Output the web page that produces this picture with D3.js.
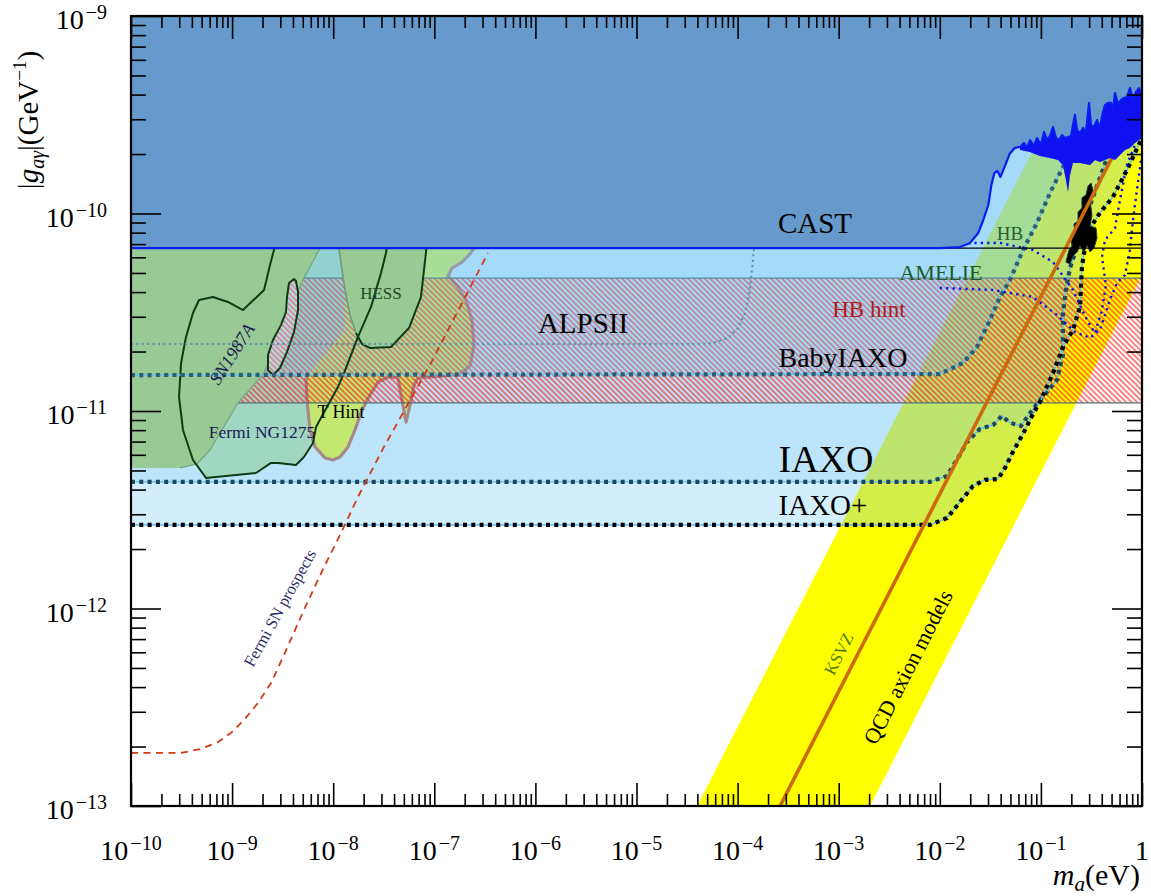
<!DOCTYPE html>
<html><head><meta charset="utf-8">
<script src="https://cdn.jsdelivr.net/npm/d3@7"></script>
<style>
body{margin:0;background:#fff}
svg{display:block}
text{font-family:"Liberation Serif","DejaVu Serif",serif}
</style>
</head><body>
<svg id="c" width="1151" height="896"></svg>
<script>
// ---------- DATA (all values are log10(m_a/eV), log10(g/GeV^-1)) ----------
const xMajor = [-10,-9,-8,-7,-6,-5,-4,-3,-2,-1,0];
const yMajor = [-13,-12,-11,-10,-9];

const castSmooth = [[-10,-10.175],[-2.00,-10.175],[-1.80,-10.170],[-1.70,-10.149],[-1.62,-10.099],[-1.57,-10.033],[-1.52,-9.957],[-1.49,-9.856],[-1.46,-9.795],[-1.43,-9.785],[-1.40,-9.815],[-1.36,-9.765],[-1.31,-9.699],[-1.26,-9.668],[-1.207,-9.663]];
const castBandTop = [[-1.207,-9.663],[-1.167,-9.643],[-1.138,-9.668],[-1.108,-9.628],[-1.068,-9.658],[-1.039,-9.618],[-0.999,-9.653],[-0.969,-9.587],[-0.940,-9.628],[-0.910,-9.608],[-0.880,-9.562],[-0.851,-9.618],[-0.821,-9.628],[-0.791,-9.603],[-0.762,-9.618],[-0.732,-9.613],[-0.702,-9.608],[-0.683,-9.552],[-0.663,-9.501],[-0.643,-9.577],[-0.613,-9.592],[-0.584,-9.567],[-0.554,-9.587],[-0.524,-9.440],[-0.505,-9.552],[-0.475,-9.562],[-0.445,-9.527],[-0.416,-9.567],[-0.386,-9.486],[-0.366,-9.451],[-0.336,-9.440],[-0.307,-9.440],[-0.287,-9.476],[-0.267,-9.390],[-0.238,-9.446],[-0.208,-9.425],[-0.178,-9.415],[-0.149,-9.410],[-0.119,-9.365],[-0.089,-9.425],[-0.060,-9.385],[-0.030,-9.365],[0,-9.400]];
const castBandBottom = [[-1.207,-9.678],[-1.108,-9.689],[-1.009,-9.709],[-0.910,-9.719],[-0.831,-9.729],[-0.782,-9.754],[-0.752,-9.830],[-0.732,-9.891],[-0.712,-9.805],[-0.683,-9.744],[-0.613,-9.744],[-0.514,-9.754],[-0.465,-9.729],[-0.416,-9.739],[-0.366,-9.729],[-0.317,-9.719],[-0.267,-9.729],[-0.218,-9.704],[-0.168,-9.678],[-0.119,-9.668],[-0.070,-9.643],[0,-9.618]];

const iaxoPlus = [[-10,-11.577],[-2.097,-11.577],[-1.929,-11.542],[-1.800,-11.461],[-1.672,-11.380],[-1.553,-11.349],[-1.424,-11.344],[-1.355,-11.288],[-1.276,-11.207],[-1.177,-11.116],[-1.078,-11.015],[-1.009,-10.954],[-0.880,-10.808],[-0.782,-10.676],[-0.683,-10.590],[-0.613,-10.473],[-0.594,-10.271],[-0.544,-10.099],[-0.416,-9.997],[-0.287,-9.916],[-0.149,-9.780],[0,-9.618]];
const iaxo = [[-10,-11.359],[-2.097,-11.359],[-1.929,-11.329],[-1.820,-11.238],[-1.731,-11.157],[-1.603,-11.091],[-1.474,-11.071],[-1.385,-11.025],[-1.326,-11.051],[-1.266,-11.066],[-1.197,-11.076],[-1.128,-11.025],[-1.039,-10.964],[-0.940,-10.904],[-0.841,-10.843],[-0.782,-10.716],[-0.782,-10.504],[-0.752,-10.387],[-0.712,-10.276],[-0.653,-10.185],[-0.584,-10.083],[-0.514,-9.957],[-0.416,-9.820],[-0.317,-9.678],[-0.168,-9.476],[0,-9.273]];
const babyIaxo = [[-10,-10.818],[-2.000,-10.813],[-1.771,-10.757],[-1.632,-10.676],[-1.504,-10.539],[-1.405,-10.423],[-1.306,-10.337],[-1.177,-10.185],[-1.039,-10.048],[-0.910,-9.896],[-0.782,-9.765],[-0.663,-9.628],[-0.564,-9.501],[-0.416,-9.324]];
const alpsII = [[-10,-10.661],[-4.372,-10.661],[-4.243,-10.656],[-4.095,-10.630],[-3.996,-10.580],[-3.927,-10.504],[-3.887,-10.413],[-3.858,-10.286],[-3.838,-10.175]];

const qcdUpper = [[-4.40,-13.0],[0,-8.60]];
const qcdLower = [[-2.69,-13.0],[0,-10.31]];
const ksvz = [[-3.58,-13.0],[0,-9.42]];
const hbHint = [-10.959,-10.327];
const hbBound = -10.175;

const fermiSN = [[-10,-12.731],[-9.505,-12.731],[-9.308,-12.711],[-9.139,-12.676],[-9.011,-12.630],[-8.882,-12.564],[-8.744,-12.478],[-8.615,-12.377],[-8.487,-12.235],[-8.289,-12.007],[-8.091,-11.790],[-7.923,-11.618],[-7.755,-11.435],[-7.498,-11.182],[-7.033,-10.757],[-6.469,-10.200]];
const sn1987a = [[-10,-10.1],[-8.05,-10.1],[-8.131,-10.175],[-8.289,-10.327],[-8.477,-10.539],[-8.684,-10.808],[-8.942,-10.959],[-9.100,-11.096],[-9.219,-11.197],[-9.347,-11.268],[-9.515,-11.288],[-10,-11.288]];
const fermiNGC = [[-8.556,-10.134],[-8.586,-10.185],[-8.625,-10.261],[-8.684,-10.387],[-8.892,-10.489],[-9.041,-10.448],[-9.189,-10.423],[-9.327,-10.438],[-9.387,-10.504],[-9.456,-10.625],[-9.505,-10.757],[-9.525,-10.929],[-9.486,-11.096],[-9.387,-11.248],[-9.258,-11.339],[-8.764,-11.314],[-8.615,-11.263],[-8.546,-11.263],[-8.368,-11.273],[-8.289,-11.233],[-8.200,-11.162],[-8.170,-11.081],[-7.953,-10.878],[-7.893,-10.808],[-7.755,-10.625],[-7.626,-10.473],[-7.527,-10.301],[-7.478,-10.200],[-7.458,-10.134]];
const fermiIsland = [[-8.388,-10.332],[-8.437,-10.352],[-8.457,-10.423],[-8.467,-10.499],[-8.516,-10.564],[-8.595,-10.640],[-8.645,-10.716],[-8.645,-10.792],[-8.595,-10.818],[-8.526,-10.782],[-8.457,-10.701],[-8.388,-10.600],[-8.348,-10.489],[-8.348,-10.397],[-8.368,-10.342]];
const hess = [[-7.943,-10.134],[-7.943,-10.175],[-7.923,-10.251],[-7.883,-10.387],[-7.834,-10.514],[-7.775,-10.605],[-7.715,-10.661],[-7.636,-10.681],[-7.428,-10.676],[-7.250,-10.580],[-7.132,-10.423],[-7.082,-10.195],[-7.072,-10.134]];
const tHint = [[-8.269,-10.833],[-8.259,-10.944],[-8.230,-11.096],[-8.180,-11.182],[-8.081,-11.238],[-8.002,-11.248],[-7.933,-11.233],[-7.854,-11.182],[-7.784,-11.096],[-7.715,-10.995],[-7.636,-10.919],[-7.557,-10.853],[-7.458,-10.828],[-7.359,-10.833],[-7.329,-10.919],[-7.280,-11.056],[-7.240,-10.970],[-7.201,-10.868],[-7.161,-10.833],[-6.944,-10.823],[-6.746,-10.813],[-6.647,-10.772],[-6.607,-10.666],[-6.627,-10.539],[-6.687,-10.438],[-6.766,-10.372],[-6.865,-10.316],[-6.825,-10.276],[-6.726,-10.246],[-6.647,-10.205],[-6.588,-10.159],[-6.568,-10.109],[-7.883,-10.109],[-7.883,-10.590],[-8.131,-10.742]];
const blackNoise = [[-0.752,-10.246],[-0.722,-10.185],[-0.693,-10.164],[-0.702,-10.124],[-0.663,-10.099],[-0.673,-10.053],[-0.633,-10.038],[-0.633,-9.992],[-0.594,-9.972],[-0.594,-9.921],[-0.554,-9.906],[-0.534,-9.861],[-0.505,-9.846],[-0.485,-9.881],[-0.514,-9.932],[-0.495,-10.008],[-0.514,-10.063],[-0.455,-10.073],[-0.445,-10.124],[-0.475,-10.175],[-0.514,-10.195],[-0.544,-10.159],[-0.574,-10.195],[-0.613,-10.164],[-0.643,-10.195],[-0.683,-10.215],[-0.712,-10.256]];
const hbLine = [[-1.721,-10.149],[-1.405,-10.149],[-1.078,-10.185],[-0.880,-10.246],[-0.683,-10.387],[-0.544,-10.539],[-0.465,-10.605],[-0.396,-10.489],[-0.357,-10.362],[-0.396,-10.220],[-0.366,-10.134],[-0.267,-10.073],[-0.218,-9.932],[-0.149,-9.754],[-0.070,-9.653]];
const amelieLine = [[-2.000,-10.377],[-1.474,-10.387],[-1.078,-10.423],[-0.841,-10.514],[-0.663,-10.600],[-0.514,-10.630],[-0.416,-10.590],[-0.317,-10.438],[-0.248,-10.352],[-0.168,-10.311],[-0.119,-10.185],[-0.089,-10.033],[-0.050,-9.881],[-0.010,-9.729]];

// ---------- SETUP ----------
const L=131,R=1142,T=16,B=806;
const x=d3.scaleLog().domain([1e-10,1]).range([L,R]);
const y=d3.scaleLog().domain([1e-13,1e-9]).range([B,T]);
const X=p=>x(Math.pow(10,p[0])), Y=p=>y(Math.pow(10,p[1]));
const line=d3.line().x(X).y(Y);
const closed=pts=>line(pts)+"Z";
const above=c=>c.concat([[c[c.length-1][0],-8.5],[-10,-8.5]]);

const svg=d3.select("#c");
const defs=svg.append("defs");
defs.append("clipPath").attr("id","clip").append("rect")
  .attr("x",L).attr("y",T).attr("width",R-L).attr("height",B-T);
const pat=defs.append("pattern").attr("id","hatch").attr("patternUnits","userSpaceOnUse")
  .attr("width",3.9).attr("height",10).attr("patternTransform","rotate(-45)");
pat.append("line").attr("x1",1).attr("y1",0).attr("x2",1).attr("y2",10)
  .attr("stroke","#ff1010").attr("stroke-width",1.05);

svg.append("rect").attr("width",1151).attr("height",896).attr("fill","#fff");
const g=svg.append("g").attr("clip-path","url(#clip)");

// QCD band
g.append("path").attr("d",closed([qcdUpper[0],qcdUpper[1],qcdLower[1],qcdLower[0]])).attr("fill","#ffff00");

// blue sensitivity layers
const blue="#6cc6f4";
g.append("path").attr("d",closed(above(iaxoPlus))).attr("fill",blue).attr("fill-opacity",0.30);
g.append("path").attr("d",closed(above(iaxo))).attr("fill",blue).attr("fill-opacity",0.22);

// Fermi NGC1275 fill
g.append("path").attr("d",closed(fermiNGC.concat([[-7.458,-9.9],[-8.556,-9.9]]))).attr("fill","rgb(125,195,120)").attr("fill-opacity",0.42);

// T hint
g.append("path").attr("d",closed(tHint)).attr("fill","#c3e870");
g.append("path").attr("d",line(tHint.slice(0,32))).attr("fill","none").attr("stroke","#a68a8a").attr("stroke-width",3.2).attr("stroke-linejoin","round");

// HB hint hatch
const hbY1=y(Math.pow(10,hbHint[1])), hbY0=y(Math.pow(10,hbHint[0]));
g.append("rect").attr("x",x(1e-10)).attr("width",x(1)-x(1e-10)).attr("y",hbY1).attr("height",hbY0-hbY1).attr("fill","url(#hatch)");
[hbHint[0],hbHint[1]].forEach(v=>{
  g.append("path").attr("d",line([[-10,v],[0,v]])).attr("stroke","#55707a").attr("stroke-width",1.1).attr("fill","none");
});

// BabyIAXO layer
g.append("path").attr("d",closed(above(babyIaxo))).attr("fill",blue).attr("fill-opacity",0.30);

// SN1987A & HESS
g.append("path").attr("d",closed(sn1987a)).attr("fill","#99c994");
g.append("path").attr("d",line(sn1987a.slice(1,11))).attr("fill","none").attr("stroke","#77a87c").attr("stroke-width",1.3);
g.append("path").attr("d",closed(hess)).attr("fill","#99c994");
g.append("path").attr("d",line(hess.slice(0,6))).attr("fill","none").attr("stroke","#6f9b76").attr("stroke-width",1.6);
g.append("path").attr("d",line(hess.slice(5))).attr("fill","none").attr("stroke","#0c3b14").attr("stroke-width",2);

// Fermi island + outline
g.append("path").attr("d",closed(fermiIsland)).attr("fill","#b4dbe6");
g.append("path").attr("d",closed(fermiIsland)).attr("fill","url(#hatch)").attr("opacity",0.7);
g.append("path").attr("d",closed(fermiIsland)).attr("fill","none").attr("stroke","#0c3b14").attr("stroke-width",2);
g.append("path").attr("d",line(fermiNGC)).attr("fill","none").attr("stroke","#0c3b14").attr("stroke-width",2).attr("stroke-linejoin","round");

// ALPS II
g.append("path").attr("d",line(alpsII)).attr("fill","none").attr("stroke","#5a90aa").attr("stroke-width",2).attr("stroke-dasharray","2,3.4");

// region edge lines
function sens(c,col){
  g.append("path").attr("d",line(c)).attr("fill","none").attr("stroke","#5cc0f0").attr("stroke-width",1.4);
  g.append("path").attr("d",line(c)).attr("fill","none").attr("stroke",col).attr("stroke-width",4.2).attr("stroke-dasharray","4,4.3");
}
sens(babyIaxo,"#2f5e74");
sens(iaxo,"#21475b");
sens(iaxoPlus,"#000");

// blue dotted HB / AMELIE
[hbLine,amelieLine].forEach(c=>g.append("path").attr("d",line(c)).attr("fill","none").attr("stroke","#0c0cf0").attr("stroke-width",2.4).attr("stroke-dasharray","2.2,4.2"));

// black noisy boundary
g.append("path").attr("d",closed(blackNoise)).attr("fill","#000").attr("stroke","#1e3a44").attr("stroke-width",1);

// KSVZ
g.append("path").attr("d",line(ksvz)).attr("fill","none").attr("stroke","#cd6a0e").attr("stroke-width",3.6);

// Fermi SN prospects
g.append("path").attr("d",line(fermiSN)).attr("fill","none").attr("stroke","#d33a14").attr("stroke-width",1.8).attr("stroke-dasharray","7,5.5");

// HB bound black line
g.append("path").attr("d",line([[-10,hbBound],[0,hbBound]])).attr("stroke","#000").attr("stroke-width",1.3);

// CAST
g.append("path").attr("d",closed(castSmooth.concat(castBandBottom.slice(1),[[0,-8.5],[-10,-8.5]]))).attr("fill","#6699cc");
g.append("path").attr("d",closed(castBandTop.concat(castBandBottom.slice().reverse()))).attr("fill","#1010f0");
g.append("path").attr("d",line(castSmooth.concat(castBandTop.slice(1)))).attr("fill","none").attr("stroke","#0a1cf0").attr("stroke-width",2.2).attr("stroke-linejoin","round");

// ---------- LABELS ----------
function lab(t,xp,yp,fs,col,opt={}){
  const e=svg.append("text").attr("x",xp).attr("y",yp).attr("font-size",fs).attr("fill",col||"#000").attr("text-anchor","middle").text(t);
  if(opt.rot!==undefined) e.attr("transform",`rotate(${opt.rot},${xp},${yp})`).attr("dominant-baseline","central");
  if(opt.italic) e.attr("font-style","italic");
  return e;
}
lab("CAST",815,233,29);
lab("ALPSII",583,333,29);
lab("BabyIAXO",843,367,28);
lab("HB hint",869,317,23,"#b01c1c");
lab("AMELIE",941,280,22,"#1c5a28");
lab("HB",1010,240,19,"#285e30");
lab("IAXO",826,472,38);
lab("IAXO+",823,515,29);
lab("HESS",381,299,17,"#1d4a25");
lab("T Hint",341,418,18);
lab("Fermi NG1275",262,438,17.5,"#1a1a50");
lab("SN1987A",232,354,18,"#1a1a50",{rot:-57.5,italic:true});
lab("Fermi SN prospects",280,608,16.5,"#2a2a66",{rot:-61});
lab("KSVZ",839,654,17,"#4d7a12",{rot:-62.9});
lab("QCD axion models",908,667,22,"#000",{rot:-62.9});

// ---------- AXES ----------
const xMinor=[], yMinor=[];
xMajor.slice(0,-1).forEach(d=>{for(let k=2;k<10;k++) xMinor.push(k*Math.pow(10,d));});
yMajor.slice(0,-1).forEach(d=>{for(let k=2;k<10;k++) yMinor.push(k*Math.pow(10,d));});
const xM=xMajor.map(d=>Math.pow(10,d)), yM=yMajor.map(d=>Math.pow(10,d));
function ax(gen,tr,vals,len){
  svg.append("g").attr("transform",tr).call(gen.tickValues(vals).tickSize(-len).tickFormat(""))
    .call(s=>{s.select(".domain").remove();s.selectAll("line").attr("stroke","#000").attr("stroke-width",1.6);});
}
ax(d3.axisBottom(x),`translate(0,${B})`,xM,23); ax(d3.axisBottom(x),`translate(0,${B})`,xMinor,12);
ax(d3.axisTop(x),`translate(0,${T})`,xM,23); ax(d3.axisTop(x),`translate(0,${T})`,xMinor,12);
ax(d3.axisLeft(y),`translate(${L},0)`,yM,30); ax(d3.axisLeft(y),`translate(${L},0)`,yMinor,15);
ax(d3.axisRight(y),`translate(${R},0)`,yM,30); ax(d3.axisRight(y),`translate(${R},0)`,yMinor,15);
svg.append("rect").attr("x",L).attr("y",T).attr("width",R-L).attr("height",B-T).attr("fill","none").attr("stroke","#000").attr("stroke-width",2.2);

// tick labels
xMajor.forEach(d=>{
  const t=svg.append("text").attr("x",x(Math.pow(10,d))).attr("y",860).attr("text-anchor","middle").attr("font-size",28);
  if(d===0){t.text("1");return;}
  t.append("tspan").text("10");
  t.append("tspan").attr("dy",-10).attr("dx",2).attr("font-size",20).text("\u2212"+(-d));
});
yMajor.forEach(d=>{
  const t=svg.append("text").attr("x",107).attr("y",y(Math.pow(10,d))+13).attr("text-anchor","end").attr("font-size",28);
  t.append("tspan").text("10");
  t.append("tspan").attr("dy",-10).attr("dx",2).attr("font-size",20).text("\u2212"+(-d));
});

// axis titles
const xt=svg.append("text").attr("x",1140).attr("y",885).attr("text-anchor","end").attr("font-size",30);
xt.append("tspan").attr("font-style","italic").text("m");
xt.append("tspan").attr("font-style","italic").attr("font-size",21).attr("dy",6).text("a");
xt.append("tspan").attr("dy",-6).text("(eV)");

const yt=svg.append("text").attr("transform","translate(38,120) rotate(-90)").attr("text-anchor","middle").attr("font-size",29);
yt.append("tspan").text("|");
yt.append("tspan").attr("font-style","italic").text("g");
yt.append("tspan").attr("font-style","italic").attr("font-size",20).attr("dy",6).text("a\u03b3");
yt.append("tspan").attr("dy",-6).text("|(GeV");
yt.append("tspan").attr("font-size",19).attr("dy",-12).text("\u22121");
yt.append("tspan").attr("dy",12).text(")");
</script>
</body></html>
